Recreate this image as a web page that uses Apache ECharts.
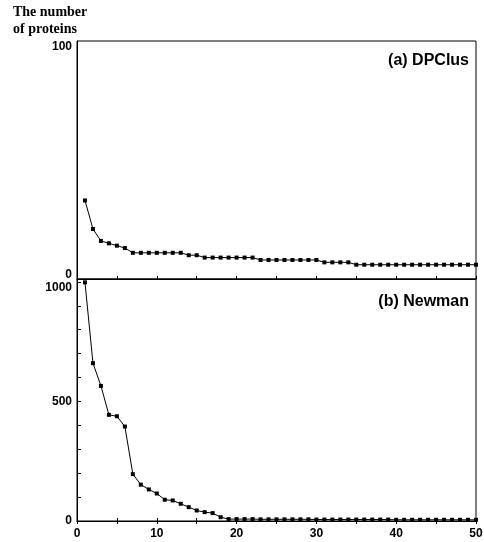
<!DOCTYPE html>
<html>
<head>
<meta charset="utf-8">
<script src="https://cdn.jsdelivr.net/npm/echarts@6/dist/echarts.min.js"></script>
<style>
    html, body { margin: 0; padding: 0; background: #fff; }
    #chart { width: 484px; height: 542px; }
</style>
</head>
<body>
<div id="chart"></div>
<script>
    // rank of the cluster (1 = largest)
    let ranks = [1, 2, 3, 4, 5, 6, 7, 8, 9, 10, 11, 12, 13, 14, 15, 16, 17, 18, 19, 20,
        21, 22, 23, 24, 25, 26, 27, 28, 29, 30, 31, 32, 33, 34, 35, 36, 37, 38, 39, 40,
        41, 42, 43, 44, 45, 46, 47, 48, 49, 50]
    // number of proteins per cluster
    let dpclusSizes = [33, 21, 16, 15, 14, 13, 11, 11, 11, 11, 11, 11, 11, 10, 10, 9, 9, 9, 9, 9,
        9, 9, 8, 8, 8, 8, 8, 8, 8, 8, 7, 7, 7, 7, 6, 6, 6, 6, 6, 6,
        6, 6, 6, 6, 6, 6, 6, 6, 6, 6]
    let newmanSizes = [998, 660, 565, 444, 438, 395, 196, 152, 132, 115, 89, 86, 72, 58, 44, 37, 33, 16, 8, 8,
        8, 8, 7, 7, 7, 7, 7, 7, 7, 6, 6, 6, 6, 6, 6, 6, 6, 6, 6, 5,
        5, 5, 5, 5, 5, 5, 5, 5, 5, 5]
    let xLabels = [0, 10, 20, 30, 40, 50]
    let topYLabels = [0, 100]
    let bottomYLabels = [0, 500, 1000]

    let labelFont = { color: '#000', fontFamily: 'Liberation Sans', fontSize: 12, fontWeight: 'bold' }
    let black = '#000'

    let dom = echarts.init(document.getElementById('chart'), null, { renderer: 'canvas' })

    let option = {
        animation: false,
        backgroundColor: '#fff',
        grid: [
            { left: 77, right: 8, top: 41, bottom: 263, show: true, borderColor: black, borderWidth: 1, outerBoundsMode: 'none' },
            { left: 77, right: 8, top: 279, bottom: 21, show: true, borderColor: black, borderWidth: 1, outerBoundsMode: 'none' }
        ],
        xAxis: [
            {
                gridIndex: 0, type: 'value', min: 0, max: 50, interval: 5,
                axisLine: { lineStyle: { color: black } },
                axisTick: { inside: true, length: 3, lineStyle: { color: black } },
                axisLabel: { show: false },
                splitLine: { show: false }
            },
            {
                gridIndex: 1, type: 'value', min: 0, max: 50, interval: 5, position: 'bottom',
                axisLine: { lineStyle: { color: black } },
                axisTick: { inside: true, length: 3, lineStyle: { color: black } },
                axisLabel: Object.assign({
                    margin: 7,
                    formatter: v => xLabels.indexOf(v) >= 0 ? String(v) : ''
                }, labelFont),
                splitLine: { show: false }
            },
            {
                gridIndex: 1, type: 'value', min: 0, max: 50, interval: 5, position: 'top',
                axisLine: { lineStyle: { color: black } },
                axisTick: { inside: true, length: 3, lineStyle: { color: black } },
                axisLabel: { show: false },
                splitLine: { show: false }
            }
        ],
        yAxis: [
            {
                gridIndex: 0, type: 'value', position: 'left', min: 0, max: 100, interval: 100,
                axisLine: { lineStyle: { color: black } },
                axisTick: { show: false },
                axisLabel: Object.assign({
                    margin: 5, verticalAlign: 'top', showMinLabel: false,
                    formatter: v => topYLabels.indexOf(v) >= 0 ? String(v) : ''
                }, labelFont),
                splitLine: { show: false }
            },
            {
                // the 0 label sits just above the shared axis line
                gridIndex: 0, type: 'value', position: 'left', offset: 0, min: 0, max: 100, interval: 100,
                axisLine: { show: false },
                axisTick: { show: false },
                axisLabel: Object.assign({
                    margin: 5, verticalAlign: 'bottom', lineHeight: 8, showMaxLabel: false,
                    formatter: v => topYLabels.indexOf(v) >= 0 ? String(v) : ''
                }, labelFont),
                splitLine: { show: false }
            },
            {
                gridIndex: 1, type: 'value', position: 'left', min: 0, max: 1012, interval: 100,
                axisLine: { lineStyle: { color: black } },
                axisTick: { inside: true, length: 4, lineStyle: { color: black } },
                axisLabel: Object.assign({
                    margin: 5,
                    formatter: v => (v < 1000 && bottomYLabels.indexOf(v) >= 0) ? String(v) : ''
                }, labelFont),
                splitLine: { show: false }
            },
            {
                // the 1000 label sits just under its tick
                gridIndex: 1, type: 'value', position: 'left', offset: 0, min: 0, max: 1012, interval: 100,
                axisLine: { show: false },
                axisTick: { show: false },
                axisLabel: Object.assign({
                    margin: 5, verticalAlign: 'top',
                    formatter: v => v === 1000 ? '1000' : ''
                }, labelFont),
                splitLine: { show: false }
            }
        ],
        graphic: [
            {
                type: 'text', left: 13, top: 5,
                style: { text: 'The number', fill: black, font: 'bold 14px "Liberation Serif"' }
            },
            {
                type: 'text', left: 13, top: 22,
                style: { text: 'of proteins', fill: black, font: 'bold 14px "Liberation Serif"' }
            },
            {
                type: 'text', right: 15, top: 53,
                style: { text: '(a) DPClus', fill: black, font: 'bold 16px "Liberation Sans"' }
            },
            {
                type: 'text', right: 15, top: 294,
                style: { text: '(b) Newman', fill: black, font: 'bold 16px "Liberation Sans"' }
            }
        ],
        series: [
            {
                name: 'DPClus', type: 'line', xAxisIndex: 0, yAxisIndex: 0,
                data: ranks.map((r, i) => [r, dpclusSizes[i]]),
                symbol: 'rect', symbolSize: 4,
                itemStyle: { color: black },
                lineStyle: { color: black, width: 1 }
            },
            {
                name: 'Newman', type: 'line', xAxisIndex: 1, yAxisIndex: 2,
                data: ranks.map((r, i) => [r, newmanSizes[i]]),
                symbol: 'rect', symbolSize: 4,
                itemStyle: { color: black },
                lineStyle: { color: black, width: 1 }
            }
        ]
    }
    dom.setOption(option)
</script>
</body>
</html>
